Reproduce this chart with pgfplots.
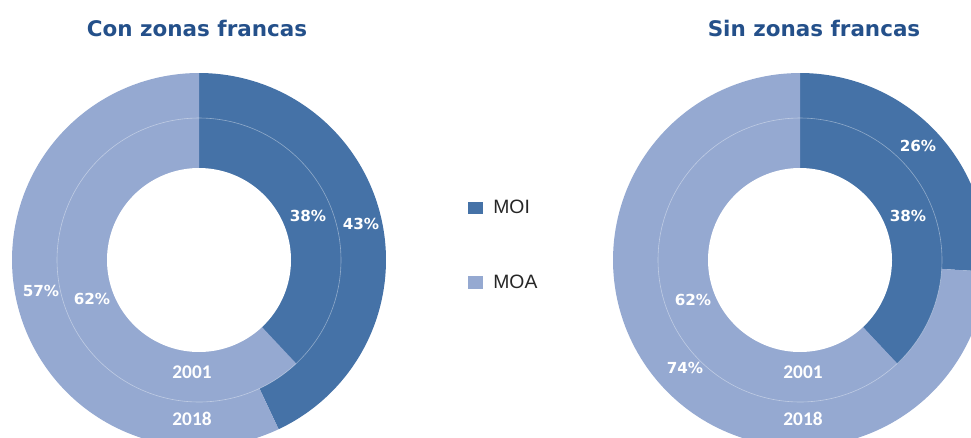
\documentclass[border=0pt]{standalone}
\usepackage{pgfplots}
\pgfplotsset{compat=1.18}
\usepackage{pgfplotstable}
\usepackage{fontspec}
\setmainfont{DejaVu Sans}
\newfontfamily\calib{Carlito}
\newfontfamily\arialf{Liberation Sans}
\definecolor{moi}{HTML}{4572A7}
\definecolor{moa}{HTML}{95A9D1}
\definecolor{ttl}{HTML}{24508A}

% percentages per donut ring
\pgfplotstableread{
panel ring cx R moi moa
con 2018 199 187 43 57
con 2001 199 142 38 62
sin 2018 800 187 26 74
sin 2001 800 142 38 62
}\donuts

\pgfplotstablegetelem{0}{moi}\of\donuts \let\conB\pgfplotsretval
\pgfplotstablegetelem{1}{moi}\of\donuts \let\conA\pgfplotsretval
\pgfplotstablegetelem{2}{moi}\of\donuts \let\sinB\pgfplotsretval
\pgfplotstablegetelem{3}{moi}\of\donuts \let\sinA\pgfplotsretval

% sector: #1 options, #2 cx, #3 R, #4 start angle, #5 end angle
\newcommand{\sector}[5]{%
  \addplot[draw=none, #1, domain=#4:#5, samples=150]
    ({#2+#3*cos(x)},{260+#3*sin(x)}) -- (axis cs:#2,260) -- cycle;
}
\newcommand{\donut}[3]{% cx, outer MOI %, inner MOI %
  \sector{fill=moi,forget plot}{#1}{187}{-90}{-90+3.6*#2}
  \sector{fill=moa,forget plot}{#1}{187}{-90+3.6*#2}{270}
  \sector{fill=moi,forget plot}{#1}{142}{-90}{-90+3.6*#3}
  \sector{fill=moa,forget plot}{#1}{142}{-90+3.6*#3}{270}
  \addplot[draw=none, fill=white, forget plot, domain=0:360, samples=150]
    ({#1+92*cos(x)},{260+92*sin(x)}) -- cycle;
  \addplot[draw=white, draw opacity=0.4, line width=0.45pt, forget plot, domain=0:360, samples=200]
    ({#1+142*cos(x)},{260+142*sin(x)});
}

\begin{document}
\begin{tikzpicture}
\begin{axis}[
  x=0.75pt, y=0.75pt,
  xmin=0, xmax=971, ymin=0, ymax=437,
  y dir=reverse,
  hide axis,
  clip=true,
  legend style={draw=none, fill=none, at={(0.482,0.549)}, anchor=north west,
    font=\arialf\fontsize{14.5}{17}\selectfont, text=black!85,
    row sep=40.5pt, inner sep=0pt,
    nodes={inner sep=2pt}},
  legend cell align=left,
  legend image code/.code={\fill[#1] (0pt,-4.7pt) rectangle (10.8pt,4.7pt);},
]
% legend carriers (invisible)
\addplot[fill=moi, draw=none] coordinates {(-50,-50)};
\addplot[fill=moa, draw=none] coordinates {(-50,-50)};
\legend{\hspace{6pt}MOI,\hspace{6pt}MOA}

\donut{199}{\conB}{\conA}
\donut{800}{\sinB}{\sinA}

% titles
\node[text=ttl, font=\bfseries\fontsize{16.1}{19}\selectfont] at (axis cs:197,28) {Con zonas francas};
\node[text=ttl, font=\bfseries\fontsize{16.1}{19}\selectfont] at (axis cs:814,28) {Sin zonas francas};

% percentage labels
\begin{scope}[every node/.style={text=white, font=\bfseries\fontsize{11.4}{13}\selectfont}]
\node at (axis cs:308,216) {38\%};
\node at (axis cs:361,224) {43\%};
\node at (axis cs:41,291) {57\%};
\node at (axis cs:92,299) {62\%};
\node at (axis cs:918,146) {26\%};
\node at (axis cs:908,216) {38\%};
\node at (axis cs:693,300) {62\%};
\node at (axis cs:685,368) {74\%};
\end{scope}
\begin{scope}[every node/.style={text=white, font=\calib\bfseries\fontsize{14.5}{17}\selectfont}]
\node at (axis cs:192,372) {2001};
\node at (axis cs:192,419) {2018};
\node at (axis cs:803,372) {2001};
\node at (axis cs:803,419) {2018};
\end{scope}
\end{axis}
\pgfresetboundingbox
\path (current axis.south west) rectangle (current axis.north east);
\end{tikzpicture}
\end{document}
